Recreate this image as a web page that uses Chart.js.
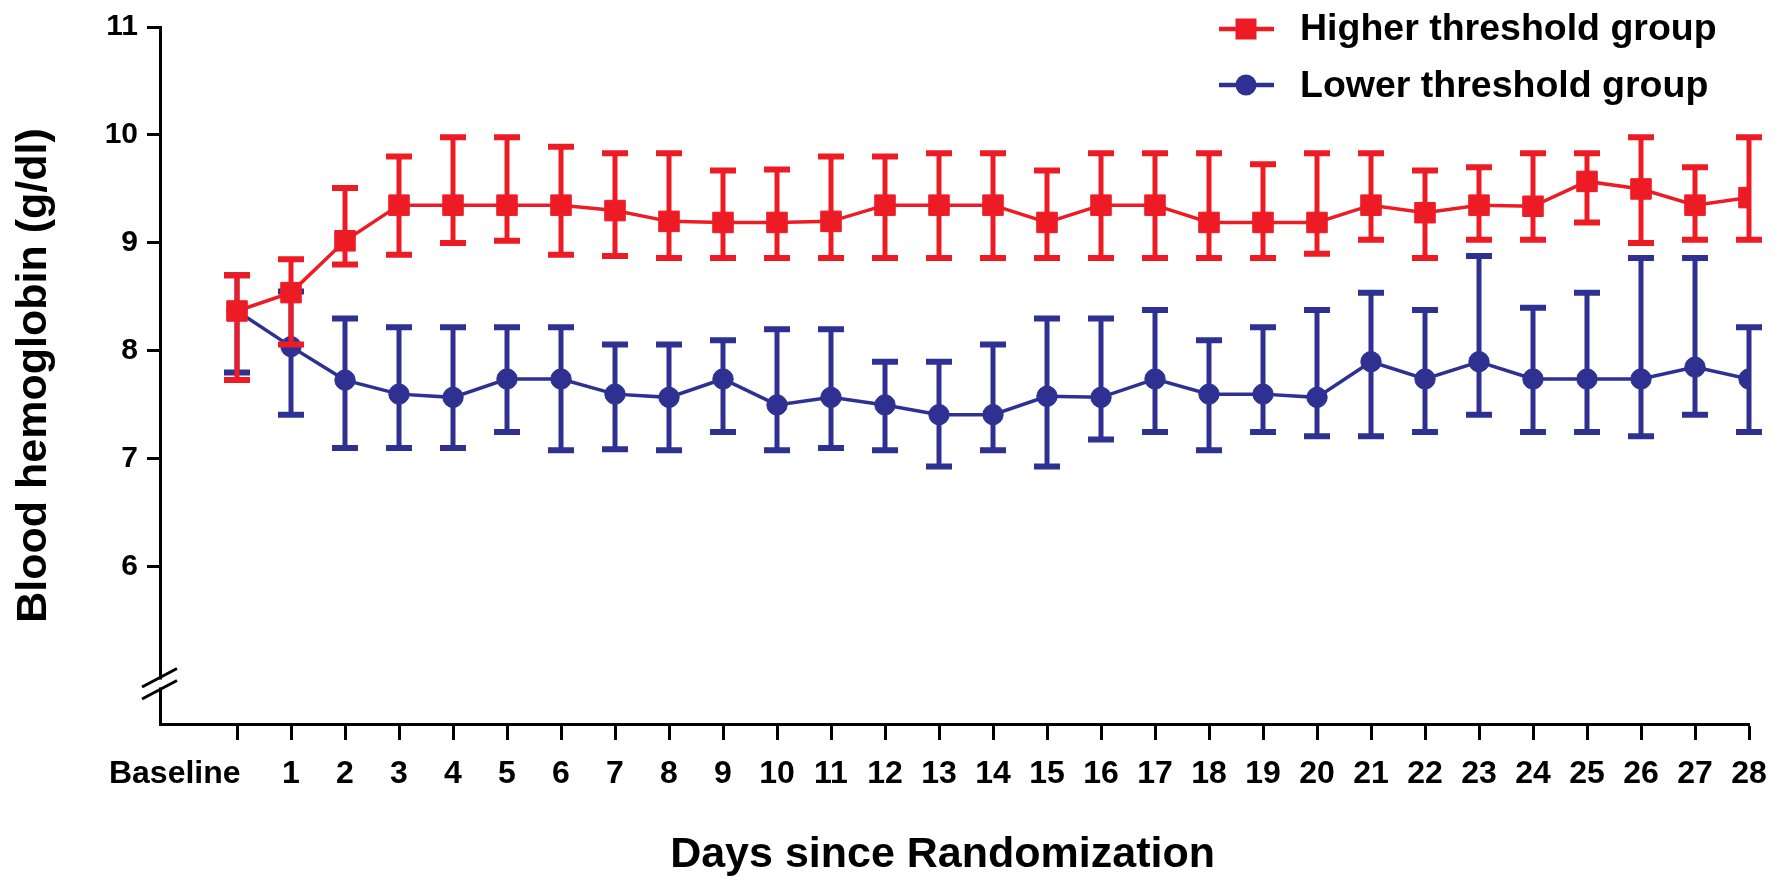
<!DOCTYPE html>
<html>
<head>
<meta charset="utf-8">
<script src="https://cdn.jsdelivr.net/npm/chart.js@4.4.0/dist/chart.umd.min.js"></script>
<style>
html,body{margin:0;padding:0;background:#ffffff;}
#wrap{width:1787px;height:883px;}
</style>
</head>
<body>
<div id="wrap"><canvas id="c" width="1787" height="883"></canvas></div>
<script>
// ---- data ----
const tickLabels = ["Baseline","1","2","3","4","5","6","7","8","9","10","11","12","13","14","15","16","17","18","19","20","21","22","23","24","25","26","27","28"];
const days = [0,1,2,3,4,5,6,7,8,9,10,11,12,13,14,15,16,17,18,19,20,21,22,23,24,25,26,27,28];
const yTickValues = [6,7,8,9,10,11];

const higherMean  = [8.37,8.54,9.02,9.35,9.35,9.35,9.35,9.30,9.20,9.19,9.19,9.20,9.35,9.35,9.35,9.19,9.35,9.35,9.19,9.19,9.19,9.35,9.28,9.35,9.34,9.57,9.50,9.35,9.42];
const higherUpper = [8.70,8.85,9.51,9.80,9.98,9.98,9.89,9.83,9.83,9.67,9.68,9.80,9.80,9.83,9.83,9.67,9.83,9.83,9.83,9.73,9.83,9.83,9.67,9.70,9.83,9.83,9.98,9.70,9.98];
const higherLower = [7.73,8.06,8.80,8.89,9.00,9.02,8.89,8.88,8.86,8.86,8.86,8.86,8.86,8.86,8.86,8.86,8.86,8.86,8.86,8.86,8.90,9.03,8.86,9.03,9.03,9.19,9.00,9.03,9.03];

const lowerMean  = [8.37,8.04,7.73,7.60,7.57,7.74,7.74,7.60,7.57,7.74,7.50,7.57,7.50,7.41,7.41,7.58,7.57,7.74,7.60,7.60,7.57,7.90,7.74,7.90,7.74,7.74,7.74,7.85,7.74];
const lowerUpper = [8.70,8.55,8.30,8.22,8.22,8.22,8.22,8.06,8.06,8.10,8.20,8.20,7.90,7.90,8.06,8.30,8.30,8.38,8.10,8.22,8.38,8.54,8.38,8.88,8.40,8.54,8.86,8.86,8.22];
const lowerLower = [7.80,7.41,7.10,7.10,7.10,7.25,7.08,7.09,7.08,7.25,7.08,7.10,7.08,6.93,7.08,6.93,7.18,7.25,7.08,7.25,7.21,7.21,7.25,7.41,7.25,7.25,7.21,7.41,7.25];

const seriesNames = ["Higher threshold group","Lower threshold group"];
const xTitle = "Days since Randomization";
const yTitle = "Blood hemoglobin (g/dl)";

// ---- styling ----
const FONT = "'Liberation Sans', Arial, Helvetica, sans-serif";
const RED = '#ED1C24';
const BLUE = '#2E3192';

function pts(vals){ return days.map((d,i)=>({x:d,y:vals[i]})); }

const errorBarPlugin = {
  id: 'errorBars',
  beforeDatasetDraw(chart, args) {
    const ds = chart.data.datasets[args.index];
    const ys = chart.scales.y;
    const ctx = chart.ctx;
    ctx.save();
    ctx.strokeStyle = ds.borderColor;
    ctx.lineCap = 'butt';
    args.meta.data.forEach((pt, i) => {
      const x = pt.x;
      const yHi = ys.getPixelForValue(ds.errUpper[i]);
      const yLo = ys.getPixelForValue(ds.errLower[i]);
      ctx.lineWidth = 5;
      ctx.beginPath(); ctx.moveTo(x, yHi); ctx.lineTo(x, yLo); ctx.stroke();
      ctx.lineWidth = 6;
      ctx.beginPath();
      ctx.moveTo(x - 13, yHi); ctx.lineTo(x + 13, yHi);
      ctx.moveTo(x - 13, yLo); ctx.lineTo(x + 13, yLo);
      ctx.stroke();
    });
    ctx.restore();
  }
};

const decorPlugin = {
  id: 'decor',
  afterDraw(chart) {
    const ctx = chart.ctx;
    const ys = chart.scales.y;
    const ax = chart.chartArea.left;
    const yb = ys.getPixelForValue(4.92);
    ctx.save();
    // axis break
    ctx.fillStyle = '#ffffff';
    ctx.fillRect(ax - 4, yb - 4, 8, 8);
    ctx.strokeStyle = '#000';
    ctx.lineWidth = 3;
    [-6, 6].forEach(off => {
      ctx.beginPath();
      ctx.moveTo(ax - 18, yb + off + 9.5);
      ctx.lineTo(ax + 17, yb + off - 9);
      ctx.stroke();
    });
    // legend
    const rows = [{y: 29, base: 40}, {y: 85, base: 96.5}];
    chart.data.datasets.forEach((ds, i) => {
      const r = rows[i];
      ctx.strokeStyle = ds.borderColor;
      ctx.fillStyle = ds.borderColor;
      ctx.lineWidth = 4.5;
      ctx.beginPath(); ctx.moveTo(1219, r.y); ctx.lineTo(1274, r.y); ctx.stroke();
      if (ds.pointStyle === 'rect') {
        ctx.fillRect(1235.5, r.y - 10.5, 21, 21);
      } else {
        ctx.beginPath(); ctx.arc(1246, r.y, 10.5, 0, Math.PI * 2); ctx.fill();
      }
      ctx.fillStyle = '#000';
      ctx.font = "bold 37.5px " + FONT;
      ctx.textAlign = 'left';
      ctx.textBaseline = 'alphabetic';
      ctx.fillText(ds.label, 1300, r.base);
    });
    ctx.restore();
  }
};

const ctx = document.getElementById('c').getContext('2d');
new Chart(ctx, {
  type: 'line',
  data: {
    datasets: [
      {
        label: seriesNames[0],
        data: pts(higherMean),
        errUpper: higherUpper,
        errLower: higherLower,
        borderColor: RED,
        backgroundColor: RED,
        borderWidth: 3.5,
        pointStyle: 'rect',
        pointRadius: 14.5,
        pointBorderWidth: 1,
        pointBackgroundColor: RED,
        pointBorderColor: RED,
        tension: 0
      },
      {
        label: seriesNames[1],
        data: pts(lowerMean),
        errUpper: lowerUpper,
        errLower: lowerLower,
        borderColor: BLUE,
        backgroundColor: BLUE,
        borderWidth: 3.5,
        pointStyle: 'circle',
        pointRadius: 10.2,
        pointBorderWidth: 1,
        pointBackgroundColor: BLUE,
        pointBorderColor: BLUE,
        tension: 0
      }
    ]
  },
  options: {
    responsive: false,
    animation: false,
    devicePixelRatio: 1,
    layout: { padding: { left: 0, top: 23, right: 38, bottom: 0 } },
    plugins: {
      legend: { display: false },
      tooltip: { enabled: false }
    },
    scales: {
      x: {
        type: 'linear',
        min: -1.426,
        max: 28,
        afterBuildTicks: s => { s.ticks = days.map(v => ({value: v})); },
        afterFit: s => { s.height = 159; },
        grid: { drawOnChartArea: false, drawTicks: true, tickLength: 16, tickWidth: 3, tickColor: '#000' },
        border: { display: true, width: 3, color: '#000' },
        ticks: {
          autoSkip: false,
          maxRotation: 0,
          minRotation: 0,
          padding: 15,
          color: '#000',
          font: { family: FONT, size: 32, weight: 'bold' },
          callback: (v) => {
            const lab = tickLabels[days.indexOf(v)];
            return v === 0 ? lab + '\u00A0'.repeat(14) : lab;
          }
        },
        title: {
          display: true,
          text: xTitle + '\u00A0\u00A0',
          color: '#000',
          font: { family: FONT, size: 43, weight: 'bold' },
          padding: { top: 0, bottom: 2 }
        }
      },
      y: {
        type: 'linear',
        min: 4.545,
        max: 11,
        afterBuildTicks: s => { s.ticks = yTickValues.map(v => ({value: v})); },
        afterFit: s => { s.width = 160; },
        grid: { drawOnChartArea: false, drawTicks: true, tickLength: 13, tickWidth: 3, tickColor: '#000' },
        border: { display: true, width: 3, color: '#000' },
        ticks: {
          padding: 9,
          color: '#000',
          font: { family: FONT, size: 30, weight: 'bold' }
        },
        title: {
          display: true,
          text: yTitle,
          color: '#000',
          font: { family: FONT, size: 43, weight: 'bold' },
          padding: { top: 8, bottom: 0 }
        }
      }
    }
  },
  plugins: [errorBarPlugin, decorPlugin]
});
</script>
</body>
</html>
